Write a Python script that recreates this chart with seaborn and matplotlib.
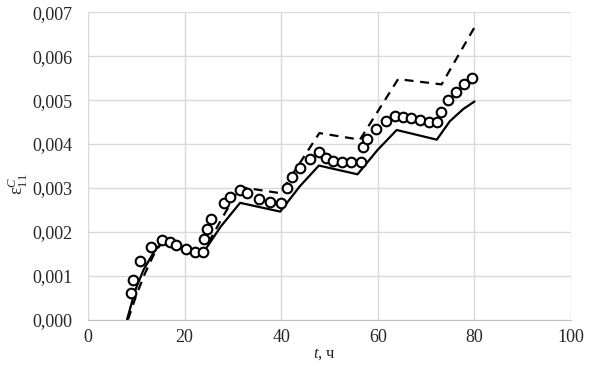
import numpy as np
import pandas as pd
import matplotlib
matplotlib.use("Agg")
import matplotlib.pyplot as plt
import seaborn as sns

# experiment (circles)
t_exp = [8.9, 9.4, 10.8, 13.0, 15.4, 16.9, 18.2, 20.3, 22.1, 23.8, 24.0, 24.6, 25.4,
         28.1, 29.4, 31.5, 32.9, 35.4, 37.6, 39.9, 41.2, 42.2, 43.9, 46.0, 47.8,
         49.3, 50.8, 52.5, 54.5, 56.5, 56.9, 57.8, 59.6, 61.6, 63.6, 65.3, 66.9,
         68.7, 70.6, 72.2, 73.1, 74.6, 76.1, 77.9, 79.4]
eps_exp = [0.00061, 0.00091, 0.00134, 0.00166, 0.00181, 0.00176, 0.00170, 0.00161,
           0.00155, 0.00155, 0.00183, 0.00206, 0.00228, 0.00265, 0.00280, 0.00295,
           0.00289, 0.00274, 0.00267, 0.00265, 0.00300, 0.00326, 0.00346, 0.00366,
           0.00381, 0.00368, 0.00362, 0.00359, 0.00358, 0.00358, 0.00394, 0.00411,
           0.00435, 0.00453, 0.00465, 0.00461, 0.00459, 0.00455, 0.00450, 0.00450,
           0.00472, 0.00500, 0.00519, 0.00537, 0.00551]

# model 1 (solid)
t_solid = [8.1, 9.8, 11.5, 13.6, 15.2, 23.6, 27.5, 31.5, 39.8, 43.8, 47.8, 55.8,
           59.9, 63.9, 72.2, 74.9, 77.7, 80.0]
eps_solid = [0.0, 0.00067, 0.00113, 0.00153, 0.00175, 0.00148, 0.00212, 0.00266,
             0.00246, 0.00303, 0.00351, 0.00331, 0.00386, 0.00432, 0.00410, 0.00452,
             0.00480, 0.00497]

# model 2 (dashed)
t_dash = [8.3, 10.0, 11.8, 13.8, 15.5, 23.7, 27.6, 31.5, 39.8, 47.9, 56.3, 64.2,
          73.2, 80.0]
eps_dash = [0.0, 0.00055, 0.00105, 0.00152, 0.00178, 0.00150, 0.00228, 0.00302,
            0.00288, 0.00425, 0.00410, 0.00548, 0.00536, 0.00666]

yticks = [0.000, 0.001, 0.002, 0.003, 0.004, 0.005, 0.006, 0.007]
xticks = [0, 20, 40, 60, 80, 100]

sns.set_style("whitegrid")
plt.rcParams['font.family'] = ['Liberation Serif', 'DejaVu Serif']
plt.rcParams['mathtext.fontset'] = 'custom'
plt.rcParams['mathtext.rm'] = 'Liberation Serif'
plt.rcParams['mathtext.it'] = 'Liberation Serif:italic'

fig = plt.figure(figsize=(5.9, 3.66), dpi=100)
ax = fig.add_axes([0.149, 0.127, 0.819, 0.839])

sns.lineplot(x=t_solid, y=eps_solid, ax=ax, color='black', lw=1.6, sort=False)
sns.lineplot(x=t_dash, y=eps_dash, ax=ax, color='black', lw=1.6, sort=False,
             linestyle=(0, (4, 3)))
sns.scatterplot(x=t_exp, y=eps_exp, ax=ax, marker='o', s=48, facecolor='white',
                edgecolor='black', linewidth=1.5, zorder=3)

ax.set_xlim(0, 100)
ax.set_ylim(0, 0.007)
ax.set_xticks(xticks)
ax.set_yticks(yticks)
ax.set_yticklabels([f"{v:.3f}".replace('.', ',') for v in yticks])
ax.grid(True, color='#d9d9d9', lw=1)
for s in ['top', 'right', 'left']:
    ax.spines[s].set_visible(False)
ax.spines['bottom'].set_color('#bfbfbf')
ax.tick_params(axis='both', labelsize=13, labelcolor='#262626')
ax.tick_params(axis='y', length=0, pad=11)
ax.tick_params(axis='x', color='#bfbfbf', length=3, width=1, pad=4)

ax.set_xlabel(r'$\mathit{t}$, ч', fontsize=12, color='#262626')
ax.xaxis.set_label_coords(0.49, -0.085)
ax.set_ylabel(r'$\mathrm{ε}_{11}^{\mathit{C}}$', fontsize=13, color='#262626')
ax.yaxis.set_label_coords(-0.12, 0.44)

fig.savefig("out.png", dpi=100)
